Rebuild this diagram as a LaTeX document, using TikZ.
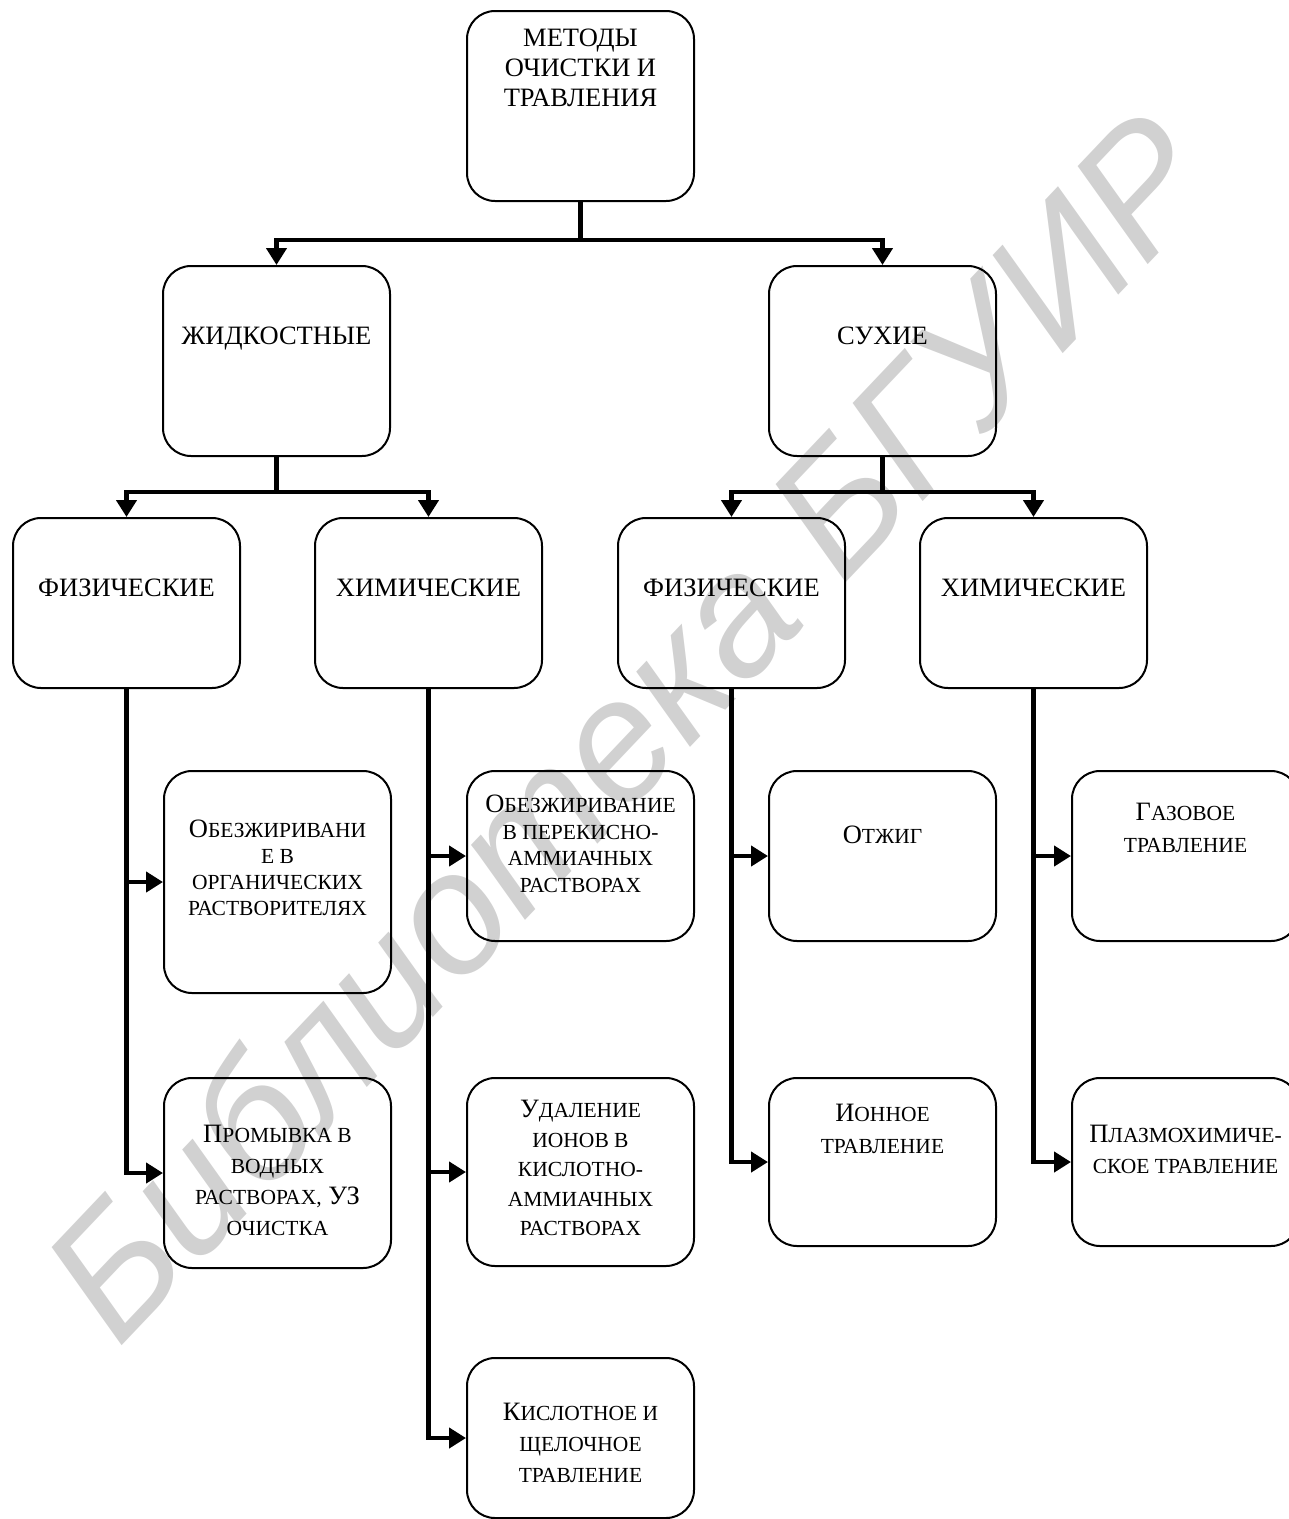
\documentclass[tikz,border=0pt]{standalone}
\usepackage{fontspec}
\setmainfont{Liberation Serif}
\newfontfamily\wmfont{Liberation Sans}
\usetikzlibrary{arrows.meta,positioning}
\newcommand\smcap[1]{{\fontsize{21.5}{26}\selectfont #1}}

\begin{document}
\begin{tikzpicture}[x=1pt,y=-1pt,
  box/.style={draw,line width=2pt,rounded corners=28pt,anchor=north west,inner sep=0pt,minimum width=227pt},
  txt/.style={align=center,inner sep=0pt,anchor=north,font=\fontsize{26.5}{30}\selectfont},
  link/.style={line width=4.5pt},
  arr/.style={link,-{Triangle[width=20pt,length=17pt]}}]
\useasboundingbox (0,0) rectangle (1289,1519);

% watermark
\node[rotate=46.5,anchor=base west,text=black!18,inner sep=0pt,font=\wmfont\itshape\fontsize{172}{172}\selectfont] (wm) at (118,1350) {Библиотека БГУИР};

% levels 1 and 2
\node[box,minimum height=190pt] (top) at (466,10) {};
\node[box,minimum height=190pt] (liq) at (162,265) {};
\node[box,minimum height=190pt] (dry) at (768,265) {};

% level 3
\node[box,minimum height=170pt] (lphys) at (12,517) {};
\node[box,minimum height=170pt] (lchem) at (314,517) {};
\node[box,minimum height=170pt] (dphys) at (617,517) {};
\node[box,minimum height=170pt] (dchem) at (919,517) {};

% methods
\node[box,minimum height=222pt] (b1) at (163,770) {};
\node[box,minimum height=190pt] (b2) at (163,1077) {};
\node[box,minimum height=170pt] (b3) at (466,770) {};
\node[box,minimum height=188pt] (b4) at (466,1077) {};
\node[box,minimum height=160pt] (b5) at (466,1357) {};
\node[box,minimum height=170pt] (b6) at (768,770) {};
\node[box,minimum height=168pt] (b7) at (768,1077) {};
\node[box,minimum height=170pt] (b8) at (1071,770) {};
\node[box,minimum height=168pt] (b9) at (1071,1077) {};

% texts
\node[txt] (topt) [below=19pt of top.north] {МЕТОДЫ\\ ОЧИСТКИ И\\ ТРАВЛЕНИЯ};
\node[txt] (liqt) [below=62pt of liq.north] {ЖИДКОСТНЫЕ};
\node[txt] (dryt) [below=62pt of dry.north] {СУХИЕ};
\node[txt] (lphyst) [below=62pt of lphys.north] {ФИЗИЧЕСКИЕ};
\node[txt] (lchemt) [below=62pt of lchem.north] {ХИМИЧЕСКИЕ};
\node[txt] (dphyst) [below=62pt of dphys.north] {ФИЗИЧЕСКИЕ};
\node[txt] (dchemt) [below=62pt of dchem.north] {ХИМИЧЕСКИЕ};

\node[txt,font=\fontsize{26.5}{26}\selectfont] (b1t) [below=50pt of b1.north]
  {О\smcap{БЕЗЖИРИВАНИ}\\ \smcap{Е В}\\ \smcap{ОРГАНИЧЕСКИХ}\\ \smcap{РАСТВОРИТЕЛЯХ}};
\node[txt,font=\fontsize{26.5}{31}\selectfont] (b2t) [below=48pt of b2.north]
  {П\smcap{РОМЫВКА В}\\ \smcap{ВОДНЫХ}\\ \smcap{РАСТВОРАХ,} УЗ\\ \smcap{ОЧИСТКА}};
\node[txt,font=\fontsize{26.5}{26.5}\selectfont] (b3t) [below=25pt of b3.north]
  {О\smcap{БЕЗЖИРИВАНИЕ}\\ \smcap{В ПЕРЕКИСНО-}\\ \smcap{АММИАЧНЫХ}\\ \smcap{РАСТВОРАХ}};
\node[txt,font=\fontsize{26.5}{29.5}\selectfont] (b4t) [below=23pt of b4.north]
  {У\smcap{ДАЛЕНИЕ}\\ \smcap{ИОНОВ В}\\ \smcap{КИСЛОТНО-}\\ \smcap{АММИАЧНЫХ}\\ \smcap{РАСТВОРАХ}};
\node[txt,font=\fontsize{26.5}{31}\selectfont] (b5t) [below=46pt of b5.north]
  {К\smcap{ИСЛОТНОЕ И}\\ \smcap{ЩЕЛОЧНОЕ}\\ \smcap{ТРАВЛЕНИЕ}};
\node[txt] (b6t) [below=56pt of b6.north] {О\smcap{ТЖИГ}};
\node[txt,font=\fontsize{26.5}{32}\selectfont] (b7t) [below=27pt of b7.north]
  {И\smcap{ОННОЕ}\\ \smcap{ТРАВЛЕНИЕ}};
\node[txt,font=\fontsize{26.5}{32}\selectfont] (b8t) [below=33pt of b8.north]
  {Г\smcap{АЗОВОЕ}\\ \smcap{ТРАВЛЕНИЕ}};
\node[txt,font=\fontsize{26.5}{31}\selectfont] (b9t) [below=48pt of b9.north]
  {П\smcap{ЛАЗМОХИМИЧЕ-}\\ \smcap{СКОЕ ТРАВЛЕНИЕ}};

% connectors
\draw[arr] (top.south) -- ++(0,38) -| (liq.north);
\draw[arr] (top.south) -- ++(0,38) -| (dry.north);
\draw[arr] (liq.south) -- ++(0,35) -| (lphys.north);
\draw[arr] (liq.south) -- ++(0,35) -| (lchem.north);
\draw[arr] (dry.south) -- ++(0,35) -| (dphys.north);
\draw[arr] (dry.south) -- ++(0,35) -| (dchem.north);

\draw[arr] (lphys.south) |- (b1.west);
\draw[arr] (lphys.south) |- (b2.west);
\draw[arr] (lchem.south) |- (b3.west);
\draw[arr] (lchem.south) |- (b4.west);
\draw[arr] (lchem.south) |- (b5.west);
\draw[arr] (dphys.south) |- (b6.west);
\draw[arr] (dphys.south) |- (b7.west);
\draw[arr] (dchem.south) |- (b8.west);
\draw[arr] (dchem.south) |- (b9.west);
\end{tikzpicture}
\end{document}
